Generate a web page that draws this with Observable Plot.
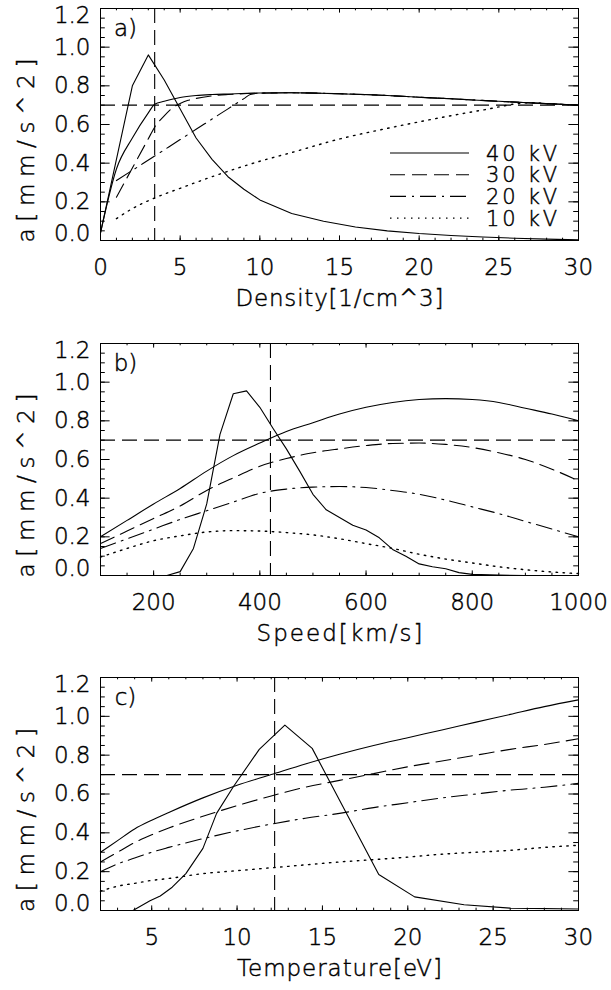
<!DOCTYPE html>
<html><head><meta charset="utf-8">
<script src="https://cdn.jsdelivr.net/npm/d3@7"></script>
<script src="https://cdn.jsdelivr.net/npm/@observablehq/plot@0.6"></script>
<style>
html,body{margin:0;padding:0;background:#fff;}
#chart{width:611px;}
#chart svg{display:block;}
#chart svg text{stroke:black;stroke-width:0.45px;}
</style></head><body><div id="chart"></div>
<script>
// ---------- data ----------
const voltages = ["40 kV", "30 kV", "20 kV", "10 kV"];
const yMajor = [0, 0.2, 0.4, 0.6, 0.8, 1.0, 1.2];
const refA = 0.7;              // horizontal reference acceleration

// Panel a: Density [1/cm^3]
const aTicks = [0, 5, 10, 15, 20, 25, 30];
const aVline = 3.4;
const aDistX = [0,1,2,3,4,5,6,7,8,9,10,12,14,16,18,20,22,24,26,28,30];
const aDistY = [0.04,0.42,0.80,0.96,0.83,0.68,0.53,0.42,0.33,0.265,0.21,0.14,0.10,0.07,0.05,0.036,0.026,0.018,0.012,0.007,0.003];
const a40X = [0,1,2,3,3.4,4,5,6,7,8,10,12,15,18,20,22,25,27,30];
const a40Y = [0.04,0.37,0.53,0.66,0.705,0.72,0.74,0.75,0.755,0.758,0.763,0.764,0.759,0.75,0.741,0.733,0.72,0.712,0.70];
const a30X = [1,2,3,3.4,4,4.5,5,5.5,6,7,8,10,12,15,18,20,22,25,27,30];
const a30Y = [0.224,0.375,0.526,0.586,0.645,0.685,0.709,0.725,0.735,0.748,0.755,0.762,0.764,0.759,0.75,0.741,0.733,0.72,0.712,0.70];
const a20X = [1,2,3.4,5,6,7,8,9,9.4,10,12,15,18,20,22,25,27,30];
const a20Y = [0.31,0.363,0.437,0.522,0.575,0.628,0.681,0.734,0.755,0.762,0.764,0.759,0.75,0.741,0.733,0.72,0.712,0.70];
const a10X = [1,2,3.4,5,7,10,12,15,18,21,24,27,28,30];
const a10Y = [0.113,0.165,0.22,0.27,0.33,0.41,0.455,0.525,0.58,0.63,0.675,0.713,0.708,0.70];

// Panel b: Speed [km/s]
const bTicks = [200, 400, 600, 800, 1000];
const bVline = 420;
const bDistX = [100,225,250,275,300,325,350,375,400,425,450,475,500,525,550,575,600,625,650,675,700,725,750,775,800,850,900,1000];
const bDistY = [0,0,0.02,0.14,0.37,0.73,0.94,0.955,0.87,0.76,0.655,0.54,0.42,0.34,0.30,0.26,0.235,0.195,0.135,0.10,0.06,0.045,0.035,0.015,0.006,0.002,0,0];
const bSpeed = [100,150,200,250,300,350,400,450,500,550,600,650,700,750,800,850,900,950,1000];
const b40 = [0.20,0.285,0.37,0.45,0.54,0.62,0.685,0.745,0.79,0.835,0.87,0.895,0.91,0.915,0.91,0.895,0.865,0.835,0.80];
const b30 = [0.165,0.23,0.295,0.36,0.44,0.505,0.565,0.605,0.635,0.655,0.672,0.683,0.685,0.678,0.662,0.635,0.60,0.55,0.49];
const b20 = [0.14,0.19,0.24,0.29,0.335,0.38,0.425,0.447,0.457,0.46,0.455,0.44,0.42,0.39,0.355,0.32,0.28,0.24,0.20];
const b10 = [0.095,0.14,0.18,0.205,0.225,0.232,0.23,0.222,0.21,0.19,0.165,0.14,0.11,0.085,0.065,0.045,0.03,0.018,0.01];

// Panel c: Temperature [eV]
const cTicks = [5, 10, 15, 20, 25, 30];
const cVline = 12.2;
const cDistX = [2,3.9,4.9,5.5,6.2,7.0,8.0,8.8,9.8,11.3,12.8,14.4,18.3,20.4,23.3,26,30];
const cDistY = [0,0,0.05,0.075,0.12,0.19,0.32,0.5,0.64,0.83,0.955,0.835,0.185,0.07,0.03,0.012,0.008];
const cTemp = [2,3,4,5,6,8,10,12,14,16,18,20,22,24,26,28,30];
const c40 = [0.30,0.36,0.42,0.465,0.505,0.58,0.645,0.70,0.755,0.805,0.85,0.89,0.93,0.97,1.01,1.05,1.085];
const c30 = [0.25,0.30,0.35,0.39,0.425,0.485,0.54,0.59,0.635,0.67,0.705,0.74,0.77,0.80,0.83,0.855,0.885];
const c20 = [0.20,0.24,0.27,0.30,0.325,0.37,0.41,0.445,0.475,0.50,0.53,0.555,0.58,0.60,0.62,0.635,0.655];
const c10 = [0.10,0.125,0.14,0.155,0.165,0.19,0.205,0.22,0.235,0.25,0.262,0.275,0.29,0.30,0.31,0.325,0.336];

// ---------- styling ----------
const FONT = "'DejaVu Sans', 'Liberation Sans', sans-serif";
const FS = 23;
const dashes = {"40 kV": null, "30 kV": "15,7", "20 kV": "16,6,2,6", "10 kV": "1.5,5.5"};
const refDash = "15,7";

const rows = (xs, ys) => xs.map((x, i) => ({x, y: ys[i]}));

function legendMark(labels) {
  return (index, scales, values, dims) => {
    const g = d3.create("svg:g");
    const right = dims.width - dims.marginRight;
    labels.forEach((lab, i) => {
      const y = dims.marginTop + 145 + i * 21.7;
      g.append("line").attr("x1", right - 188).attr("x2", right - 109)
        .attr("y1", y).attr("y2", y).attr("stroke", "black").attr("stroke-width", 1.1)
        .attr("stroke-dasharray", dashes[lab]);
      g.append("text").attr("x", right - 92).attr("y", y).attr("dy", "0.36em")
        .attr("text-anchor", "start").attr("fill", "black").attr("font-size", 21)
        .attr("textLength", 71).attr("lengthAdjust", "spacing").text(lab);
    });
    return g.node();
  };
}

function panel(cfg) {
  const width = 611, ml = 100, mr = 33;
  const {height, mt, mb} = cfg;
  const pw = width - ml - mr, ph = height - mt - mb;
  const yMinor = d3.range(0, 1.2001, 0.05);
  const fmtY = d3.format(".1f");
  const marks = [
    Plot.frame({stroke: "black", strokeWidth: 1}),
    // x ticks (inward, bottom and top)
    Plot.tickX(cfg.xMinor, {insetTop: ph - 2.3, stroke: "black"}),
    Plot.tickX(cfg.xMinor, {insetBottom: ph - 2.3, stroke: "black"}),
    Plot.tickX(cfg.xTicks, {insetTop: ph - 4.6, stroke: "black"}),
    Plot.tickX(cfg.xTicks, {insetBottom: ph - 4.6, stroke: "black"}),
    // y ticks (inward, left and right)
    Plot.tickY(yMinor, {insetRight: pw - 4.8, stroke: "black"}),
    Plot.tickY(yMinor, {insetLeft: pw - 4.8, stroke: "black"}),
    Plot.tickY(yMajor, {insetRight: pw - 9.6, stroke: "black"}),
    Plot.tickY(yMajor, {insetLeft: pw - 9.6, stroke: "black"}),
    // tick labels
    Plot.axisX(cfg.xTicks, {tickSize: 0, tickPadding: 18, label: null, tickFormat: d3.format("d"), fontSize: FS, fill: "black"}),
    Plot.axisY(yMajor.slice(1, -1), {tickSize: 0, tickPadding: 10, label: null, tickFormat: fmtY, fontSize: FS, fill: "black"}),
    Plot.axisY([yMajor[0]], {tickSize: 0, tickPadding: 10, label: null, tickFormat: fmtY, fontSize: FS, fill: "black", dy: -7}),
    Plot.axisY([yMajor[yMajor.length - 1]], {tickSize: 0, tickPadding: 10, label: null, tickFormat: fmtY, fontSize: FS, fill: "black", dy: 7}),
    // titles
    Plot.text([cfg.xLabel], {frameAnchor: "bottom", dy: 58, lineAnchor: "middle", fontSize: FS, fill: "black", className: "xtitle"}),
    Plot.text(["a[mm/s^2]"], {frameAnchor: "left", dx: -74, dy: 118, rotate: -90, textAnchor: "start", lineAnchor: "middle", fontSize: FS, fill: "black", className: "ytitle"}),
    Plot.text([cfg.tag], {frameAnchor: "top-left", dx: 25, dy: 20, lineAnchor: "middle", textAnchor: "middle", fontSize: FS, fill: "black"}),
    // reference lines
    Plot.ruleY([refA], {stroke: "black", strokeDasharray: refDash, strokeWidth: 1.1}),
    Plot.ruleX([cfg.vline], {stroke: "black", strokeDasharray: refDash, strokeWidth: 1.1}),
    // distribution
    Plot.line(cfg.dist, {x: "x", y: "y", stroke: "black", strokeWidth: 1.1}),
  ];
  cfg.series.forEach((s, i) => {
    marks.push(Plot.line(s, {x: "x", y: "y", curve: "monotone-x", stroke: "black",
      strokeWidth: i === 3 ? 1.4 : 1.1, strokeDasharray: dashes[voltages[i]]}));
  });
  if (cfg.legend) marks.push(legendMark(voltages));
  const svg = Plot.plot({
    width, height, marginLeft: ml, marginRight: mr, marginTop: mt, marginBottom: mb,
    x: {domain: cfg.xDomain, axis: null},
    y: {domain: [yMajor[0], yMajor[yMajor.length - 1]], axis: null},
    style: {fontFamily: FONT, fontSize: FS + "px", color: "black", background: "white", overflow: "visible", fontWeight: 200},
    marks
  });
  svg.querySelectorAll("g.xtitle text").forEach(t => {
    t.setAttribute("textLength", cfg.xLen); t.setAttribute("lengthAdjust", "spacing");
  });
  svg.querySelectorAll("g.ytitle text").forEach(t => {
    t.setAttribute("textLength", 184); t.setAttribute("lengthAdjust", "spacing");
  });
  return svg;
}

const chart = document.getElementById("chart");
chart.append(panel({
  height: 335, mt: 8, mb: 95, tag: "a)", xLabel: "Density[1/cm^3]", xLen: 208,
  xDomain: [0, 30], xTicks: aTicks, xMinor: d3.range(0, 30.001, 1), vline: aVline,
  dist: rows(aDistX, aDistY),
  series: [rows(a40X, a40Y), rows(a30X, a30Y), rows(a20X, a20Y), rows(a10X, a10Y)],
  legend: true
}));
chart.append(panel({
  height: 335, mt: 8, mb: 95, tag: "b)", xLabel: "Speed[km/s]", xLen: 166,
  xDomain: [100, 1000], xTicks: bTicks, xMinor: d3.range(100, 1000.001, 50), vline: bVline,
  dist: rows(bDistX, bDistY),
  series: [rows(bSpeed, b40), rows(bSpeed, b30), rows(bSpeed, b20), rows(bSpeed, b10)]
}));
chart.append(panel({
  height: 320, mt: 7, mb: 80, tag: "c)", xLabel: "Temperature[eV]", xLen: 205,
  xDomain: [2, 30], xTicks: cTicks, xMinor: d3.range(2, 30.001, 1), vline: cVline,
  dist: rows(cDistX, cDistY),
  series: [rows(cTemp, c40), rows(cTemp, c30), rows(cTemp, c20), rows(cTemp, c10)]
}));
</script>
</body></html>
